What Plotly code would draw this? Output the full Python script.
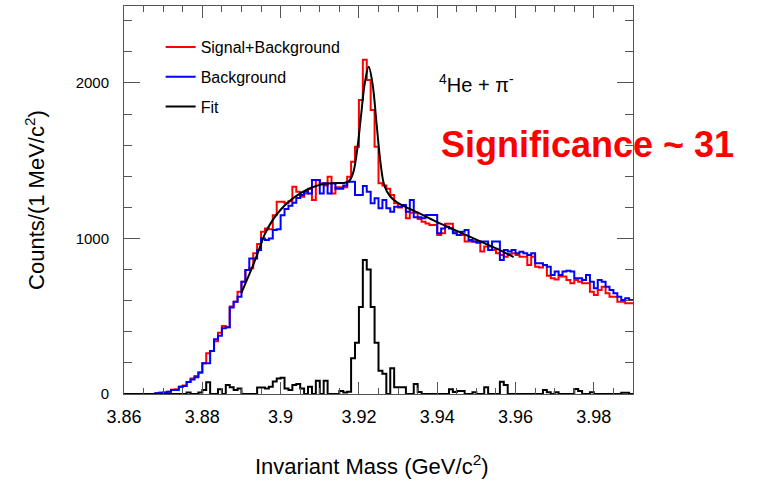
import plotly.graph_objects as go

# ---------------- data (1 MeV bins from 3.860 to 3.990 GeV) ----------------
bin_lo = 3.86
bin_w = 0.001
n_bins = 130

sig_bkg = [0, 0, 0, 0, 0, 0, 0, 0, 5, 8,
           10, 15, 28, 30, 47, 55, 77, 100, 115, 139,
           197, 262, 276, 340, 394, 437, 430, 563, 594, 658,
           722, 797, 808, 905, 965, 1044, 1065, 1060, 1150, 1236,
           1236, 1226, 1240, 1333, 1300, 1269, 1290, 1320, 1248, 1376,
           1355, 1340, 1397, 1290, 1330, 1330, 1330, 1397, 1494, 1590,
           1891, 2150, 2019, 1826, 1590, 1355, 1340, 1320, 1280, 1226,
           1200, 1210, 1130, 1165, 1165, 1125, 1108, 1097, 1087, 1087,
           1022, 1033, 1094, 1094, 1044, 1022, 1022, 980, 980, 980,
           980, 916, 948, 948, 926, 905, 894, 883, 900, 905,
           894, 883, 883, 830, 883, 819, 813, 830, 760, 744,
           737, 755, 755, 733, 712, 733, 722, 712, 712, 658,
           637, 669, 690, 648, 626, 626, 594, 594, 583, 583]

background = [0, 0, 0, 0, 0, 0, 0, 0, 5, 8,
              10, 15, 26, 26, 47, 51, 77, 94, 107, 139,
              197, 197, 276, 352, 375, 422, 429, 557, 594, 626,
              722, 797, 872, 872, 926, 1000, 990, 1000, 1055, 1060,
              1150, 1190, 1210, 1230, 1260, 1280, 1300, 1290, 1376, 1376,
              1290, 1355, 1290, 1355, 1320, 1320, 1340, 1365, 1365, 1280,
              1280, 1338, 1300, 1226, 1258, 1194, 1248, 1194, 1172, 1204,
              1204, 1215, 1172, 1248, 1136, 1136, 1130, 1151, 1151, 1151,
              1033, 1065, 1076, 1065, 1033, 1022, 1044, 1055, 990, 980,
              973, 980, 980, 926, 980, 980, 862, 926, 916, 926,
              905, 915, 905, 894, 905, 840, 840, 830, 819, 765,
              787, 765, 787, 793, 787, 744, 744, 733, 765, 722,
              680, 733, 722, 690, 669, 648, 626, 605, 615, 605]

signal = [0, 0, 0, 0, 0, 0, 0, 0, 0, 0,
          0, 0, 0, 0, 0, 0, 10, 0, 0, 10,
          26, 75, 0, 0, 30, 0, 58, 43, 26, 36,
          0, 0, 0, 0, 41, 41, 36, 47, 80, 100,
          105, 36, 26, 58, 64, 36, 0, 47, 0, 86,
          0, 86, 0, 0, 0, 20, 10, 15, 230, 330,
          560, 862, 800, 560, 330, 150, 130, 0, 165, 43,
          43, 43, 0, 0, 64, 13, 0, 0, 0, 0,
          0, 0, 0, 30, 13, 19, 19, 0, 0, 11,
          0, 0, 43, 0, 0, 0, 79, 58, 0, 0,
          0, 0, 0, 0, 0, 0, 0, 26, 11, 0,
          11, 0, 0, 0, 0, 32, 19, 0, 0, 11,
          0, 0, 0, 0, 0, 0, 0, 8, 8, 0]

fit_mass = [3.8900, 3.8915, 3.8930, 3.8945, 3.8960, 3.8980, 3.9000, 3.9020,
            3.9050, 3.9080, 3.9110, 3.9140, 3.9165, 3.9175, 3.9185, 3.9195,
            3.9205, 3.9215, 3.9225, 3.9235, 3.9245, 3.9255, 3.9265, 3.9280,
            3.9300, 3.9330, 3.9360, 3.9400, 3.9440, 3.9480, 3.9520, 3.9560,
            3.9595]
fit_counts = [650, 740, 830, 930, 1030, 1120, 1185, 1235,
              1290, 1328, 1350, 1356, 1358, 1370, 1420, 1560,
              1780, 2000, 2105, 1990, 1740, 1490, 1340, 1270,
              1228, 1190, 1155, 1105, 1060, 1015, 970, 925,
              880]

x_tickvals = [3.86, 3.88, 3.90, 3.92, 3.94, 3.96, 3.98]
x_ticktext = ["3.86", "3.88", "3.9", "3.92", "3.94", "3.96", "3.98"]
y_tickvals = [0, 1000, 2000]
y_ticktext = ["0", "1000", "2000"]

# ---------------- figure ----------------
edges = [bin_lo + bin_w * i for i in range(n_bins + 1)]


def steps(vals):
    return list(vals) + [vals[-1]]


FONT = "Liberation Sans, Arial, Helvetica, sans-serif"

fig = go.Figure()
fig.add_trace(go.Scatter(x=edges, y=steps(sig_bkg), mode="lines", line_shape="hv",
                         line=dict(color="#ff0000", width=2), name="Signal+Background",
                         legendgroup="a"))
fig.add_trace(go.Scatter(x=edges, y=steps(background), mode="lines", line_shape="hv",
                         line=dict(color="#0000ff", width=2), name="Background",
                         legendgroup="b"))
fig.add_trace(go.Scatter(x=edges, y=steps(signal), mode="lines", line_shape="hv",
                         line=dict(color="#000000", width=2), name="Signal",
                         showlegend=False))
fig.add_trace(go.Scatter(x=fit_mass, y=fit_counts, mode="lines", line_shape="spline",
                         line=dict(color="#000000", width=2), name="Fit",
                         legendgroup="c"))

axis_common = dict(showline=True, linecolor="#555555", linewidth=1, mirror="ticks",
                   ticks="inside", tickcolor="#555555", tickwidth=1,
                   showgrid=False, zeroline=False)

fig.update_xaxes(range=[3.86, 3.99], tickvals=x_tickvals, ticktext=x_ticktext,
                 ticklen=12, tickfont=dict(family=FONT, size=18, color="black"),
                 minor=dict(ticks="inside", dtick=0.005, tick0=3.86, ticklen=6,
                            tickcolor="#555555"),
                 ticklabelstandoff=6, **axis_common)
fig.update_yaxes(range=[0, 2495], tickvals=y_tickvals, ticktext=y_ticktext,
                 ticklen=16, tickfont=dict(family=FONT, size=15, color="black"),
                 minor=dict(ticks="inside", dtick=200, tick0=0, ticklen=8,
                            tickcolor="#555555"),
                 ticklabelstandoff=11, **axis_common)

fig.update_layout(
    width=758, height=482,
    margin=dict(l=124, r=125, t=6, b=88),
    paper_bgcolor="white", plot_bgcolor="white",
    font=dict(family=FONT, color="black"),
    legend=dict(x=0.072, y=0.938, xanchor="left", yanchor="top",
                bgcolor="rgba(0,0,0,0)", font=dict(family=FONT, size=16),
                tracegroupgap=6, traceorder="grouped"),
    annotations=[
        dict(text="<sup>4</sup>He + π<sup>-</sup>", xref="paper", yref="paper",
             x=0.615, y=0.80, xanchor="left", yanchor="middle", showarrow=False,
             font=dict(family=FONT, size=20, color="black")),
        dict(text="<b>Significance ~ 31</b>", xref="paper", yref="paper",
             x=0.618, y=0.643, xanchor="left", yanchor="middle", showarrow=False,
             font=dict(family=FONT, size=36, color="#ff0000")),
        dict(text="Invariant Mass (GeV/c<sup>2</sup>)", xref="paper", yref="paper",
             x=0.488, y=-0.183, xanchor="center", yanchor="middle", showarrow=False,
             font=dict(family=FONT, size=22, color="black")),
        dict(text="Counts/(1 MeV/c<sup>2</sup>)", xref="paper", yref="paper",
             x=-0.175, y=0.5, xanchor="center", yanchor="middle", showarrow=False,
             textangle=-90, font=dict(family=FONT, size=22, color="black")),
    ],
)

fig.write_html("out.html", config={"displayModeBar": False},
               post_script="document.body.style.margin='0';")
